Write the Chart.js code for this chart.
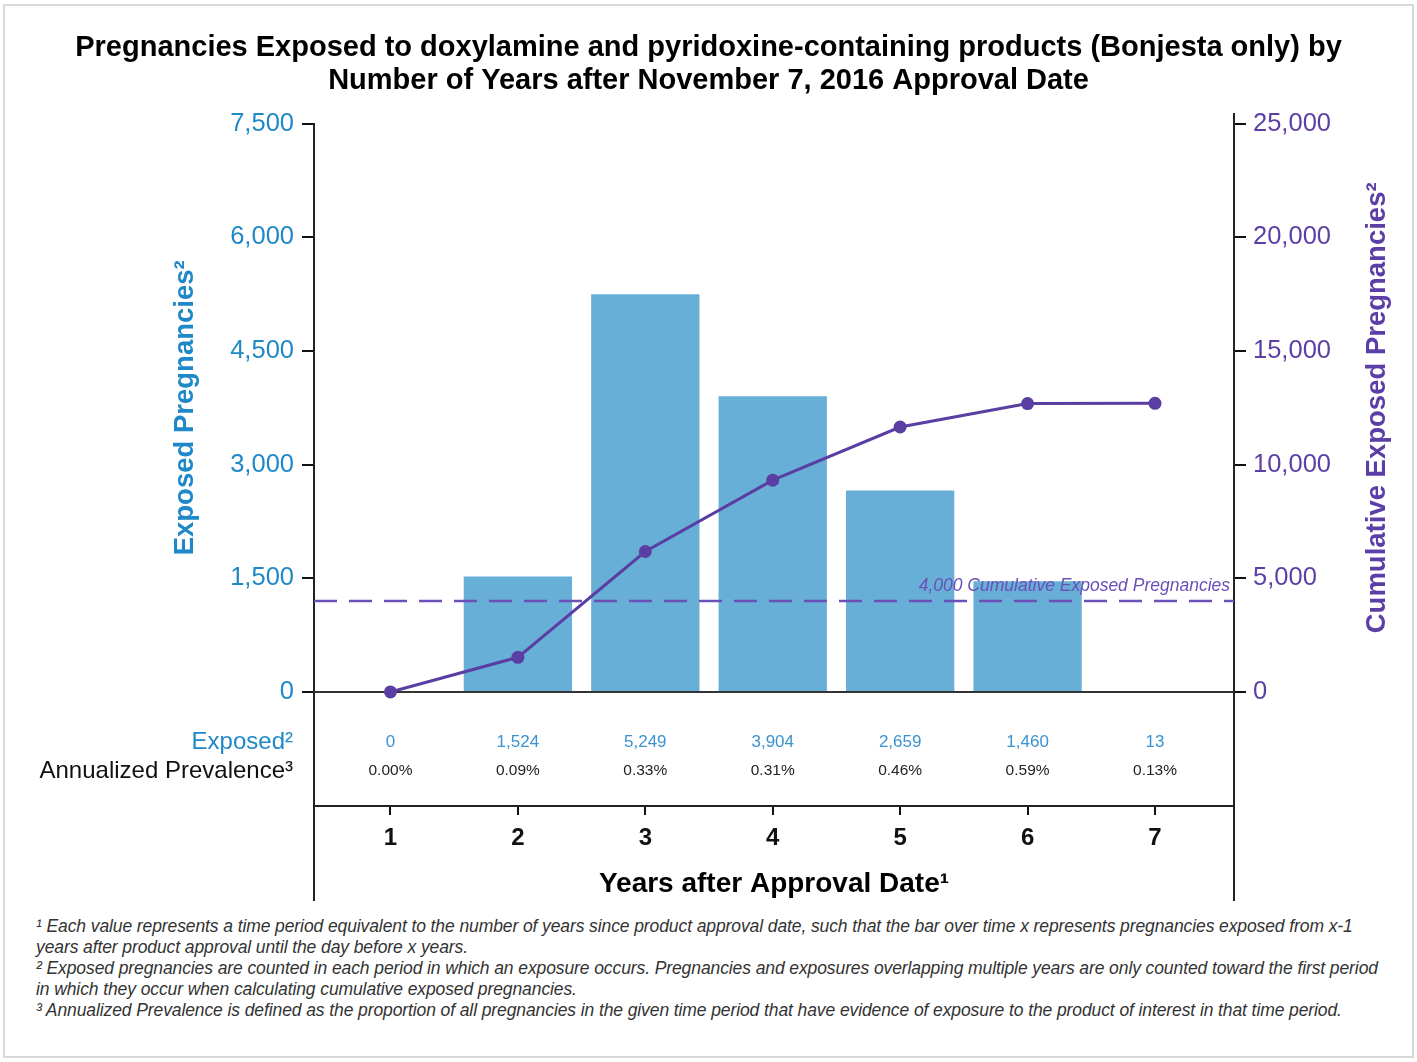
<!DOCTYPE html>
<html>
<head>
<meta charset="utf-8">
<script src="https://cdn.jsdelivr.net/npm/chart.js@4.4.1/dist/chart.umd.min.js"></script>
<style>
    body { margin: 0; background: #fff; font-family: "Liberation Sans", Arial, sans-serif; }
    #frame { position: absolute; left: 3px; top: 4px; width: 1407px; height: 1050px; border: 2px solid #d9d9d9; }
    #wrap { position: absolute; left: 0; top: 0; width: 1417px; height: 910px; }
    #notes { position: absolute; left: 36px; top: 916px; font-size: 17.5px; font-style: italic; color: #333; line-height: 21px; white-space: nowrap; letter-spacing: -0.1px; }
</style>
</head>
<body>
<div id="frame"></div>
<div id="wrap"><canvas id="bonjestaChart" width="1417" height="910"></canvas></div>
<div id="notes">
    <div>¹ Each value represents a time period equivalent to the number of years since product approval date, such that the bar over time x represents pregnancies exposed from x-1</div>
    <div>years after product approval until the day before x years.</div>
    <div>² Exposed pregnancies are counted in each period in which an exposure occurs. Pregnancies and exposures overlapping multiple years are only counted toward the first period</div>
    <div>in which they occur when calculating cumulative exposed pregnancies.</div>
    <div>³ Annualized Prevalence is defined as the proportion of all pregnancies in the given time period that have evidence of exposure to the product of interest in that time period.</div>
</div>
<script>
const years = [1, 2, 3, 4, 5, 6, 7];
const exposed = [0, 1524, 5249, 3904, 2659, 1460, 13];
const cumulative = [0, 1524, 6180, 9318, 11655, 12685, 12698];
const prevalence = ["0.00%", "0.09%", "0.33%", "0.31%", "0.46%", "0.59%", "0.13%"];
const leftTicks = [0, 1500, 3000, 4500, 6000, 7500];
const rightTicks = [0, 5000, 10000, 15000, 20000, 25000];
const refLine = 4000;

const BLUE = "#1f88c8";
const PURPLE = "#5b3fa7";
const FONT = "'Liberation Sans', Arial, sans-serif";

const extras = {
    id: "extras",
    beforeDatasetsDraw(chart) {
        const { ctx, chartArea, scales } = chart;
        const y0 = scales.y.getPixelForValue(0);
        ctx.save();
        ctx.strokeStyle = "#333";
        ctx.lineWidth = 2;
        ctx.beginPath();
        ctx.moveTo(chartArea.left, y0);
        ctx.lineTo(chartArea.right, y0);
        ctx.stroke();
        ctx.restore();
    },
    afterDatasetDraw(chart, args) {
        if (args.index !== 0) return;
        const { ctx, chartArea, scales } = chart;
        const yr = scales.y2.getPixelForValue(refLine);
        ctx.save();
        ctx.strokeStyle = "#6b50b8";
        ctx.lineWidth = 2.5;
        ctx.setLineDash([23, 12]);
        ctx.beginPath();
        ctx.moveTo(chartArea.left, yr);
        ctx.lineTo(chartArea.right, yr);
        ctx.stroke();
        ctx.setLineDash([]);
        ctx.fillStyle = "#6b50b8";
        ctx.font = "italic 17.5px " + FONT;
        ctx.textAlign = "right";
        ctx.textBaseline = "middle";
        ctx.fillText(refLine.toLocaleString("en-US") + " Cumulative Exposed Pregnancies", chartArea.right - 4, yr - 15);
        ctx.restore();
    },
    afterDraw(chart) {
        const { ctx, chartArea, scales } = chart;
        ctx.save();
        // table rows under the plot
        ctx.textBaseline = "middle";
        ctx.textAlign = "right";
        ctx.font = "24px " + FONT;
        ctx.fillStyle = BLUE;
        ctx.fillText("Exposed²", 293, 742);
        ctx.fillStyle = "#111";
        ctx.fillText("Annualized Prevalence³", 293, 771);
        ctx.textAlign = "center";
        years.forEach((yr, i) => {
            const x = scales.x.getPixelForValue(yr);
            ctx.font = "17px " + FONT;
            ctx.fillStyle = "#3a93cf";
            ctx.fillText(exposed[i].toLocaleString("en-US"), x, 742);
            ctx.font = "15.5px " + FONT;
            ctx.fillStyle = "#222";
            ctx.fillText(prevalence[i], x, 771);
        });
        // axis titles
        ctx.font = "bold 27.5px " + FONT;
        const midY = (scales.y.getPixelForValue(0) + scales.y.getPixelForValue(7500)) / 2;
        ctx.fillStyle = BLUE;
        ctx.save();
        ctx.translate(185, midY);
        ctx.rotate(-Math.PI / 2);
        ctx.fillText("Exposed Pregnancies²", 0, 0);
        ctx.restore();
        ctx.fillStyle = PURPLE;
        ctx.save();
        ctx.translate(1377, midY);
        ctx.rotate(-Math.PI / 2);
        ctx.fillText("Cumulative Exposed Pregnancies²", 0, 0);
        ctx.restore();
        // axis lines run down past the x axis
        ctx.strokeStyle = "#222";
        ctx.lineWidth = 2;
        ctx.beginPath();
        ctx.moveTo(chartArea.left, chartArea.bottom);
        ctx.lineTo(chartArea.left, 901);
        ctx.moveTo(chartArea.right, chartArea.bottom);
        ctx.lineTo(chartArea.right, 901);
        ctx.moveTo(chartArea.right, chartArea.top);
        ctx.lineTo(chartArea.right, 113);
        ctx.stroke();
        ctx.restore();
    }
};

new Chart(document.getElementById("bonjestaChart"), {
    data: {
        datasets: [{
            type: "bar",
            label: "Exposed",
            data: years.map((x, i) => ({ x, y: exposed[i] })),
            backgroundColor: "#67afd7",
            categoryPercentage: 1,
            barPercentage: 0.85,
            yAxisID: "y",
            order: 2
        }, {
            type: "line",
            label: "Cumulative",
            data: years.map((x, i) => ({ x, y: cumulative[i] })),
            borderColor: "#5a3ea3",
            backgroundColor: "#5a3ea3",
            borderWidth: 3,
            pointRadius: 6.5,
            pointBackgroundColor: "#5a3ea3",
            pointBorderWidth: 0,
            tension: 0,
            yAxisID: "y2",
            order: 1
        }]
    },
    options: {
        responsive: false,
        animation: false,
        layout: { padding: 0 },
        plugins: {
            legend: { display: false },
            tooltip: { enabled: false },
            title: {
                display: true,
                text: [
                    "Pregnancies Exposed to doxylamine and pyridoxine-containing products (Bonjesta only) by",
                    "Number of Years after November 7, 2016 Approval Date"
                ],
                color: "#000",
                font: { family: FONT, size: 29, weight: "bold", lineHeight: 1.15 },
                padding: { top: 31, bottom: 26 }
            }
        },
        scales: {
            x: {
                type: "linear",
                position: "bottom",
                offset: false,
                min: 0.4,
                max: 7.62,
                afterBuildTicks: s => { s.ticks = years.map(v => ({ value: v })); },
                afterFit: s => { s.height = 104; },
                grid: { offset: false, drawOnChartArea: false, drawTicks: true, tickLength: 9, color: "#111", lineWidth: 2 },
                border: { display: true, color: "#222", width: 2 },
                ticks: { color: "#111", padding: 9, font: { family: FONT, size: 24, weight: "bold" } },
                title: {
                    display: true,
                    text: "Years after Approval Date¹",
                    color: "#000",
                    font: { family: FONT, size: 28, weight: "bold", lineHeight: 1.2 },
                    padding: { top: 0, bottom: 9 }
                }
            },
            y: {
                position: "left",
                min: -1505,
                max: 7500,
                afterBuildTicks: s => { s.ticks = leftTicks.map(v => ({ value: v })); },
                afterFit: s => { s.width = 314; },
                grid: { drawOnChartArea: false, drawTicks: true, tickLength: 12, color: "#111", lineWidth: 2 },
                border: { display: true, color: "#222", width: 2 },
                ticks: {
                    color: BLUE,
                    padding: 8,
                    font: { family: FONT, size: 25.5 },
                    callback: v => v.toLocaleString("en-US")
                }
            },
            y2: {
                position: "right",
                min: -5018,
                max: 25000,
                afterBuildTicks: s => { s.ticks = rightTicks.map(v => ({ value: v })); },
                afterFit: s => { s.width = 183; },
                grid: { drawOnChartArea: false, drawTicks: true, tickLength: 12, color: "#111", lineWidth: 2 },
                border: { display: true, color: "#222", width: 2 },
                ticks: {
                    color: PURPLE,
                    padding: 7,
                    font: { family: FONT, size: 25.5 },
                    callback: v => v.toLocaleString("en-US")
                }
            }
        }
    },
    plugins: [extras]
});
</script>
</body>
</html>
